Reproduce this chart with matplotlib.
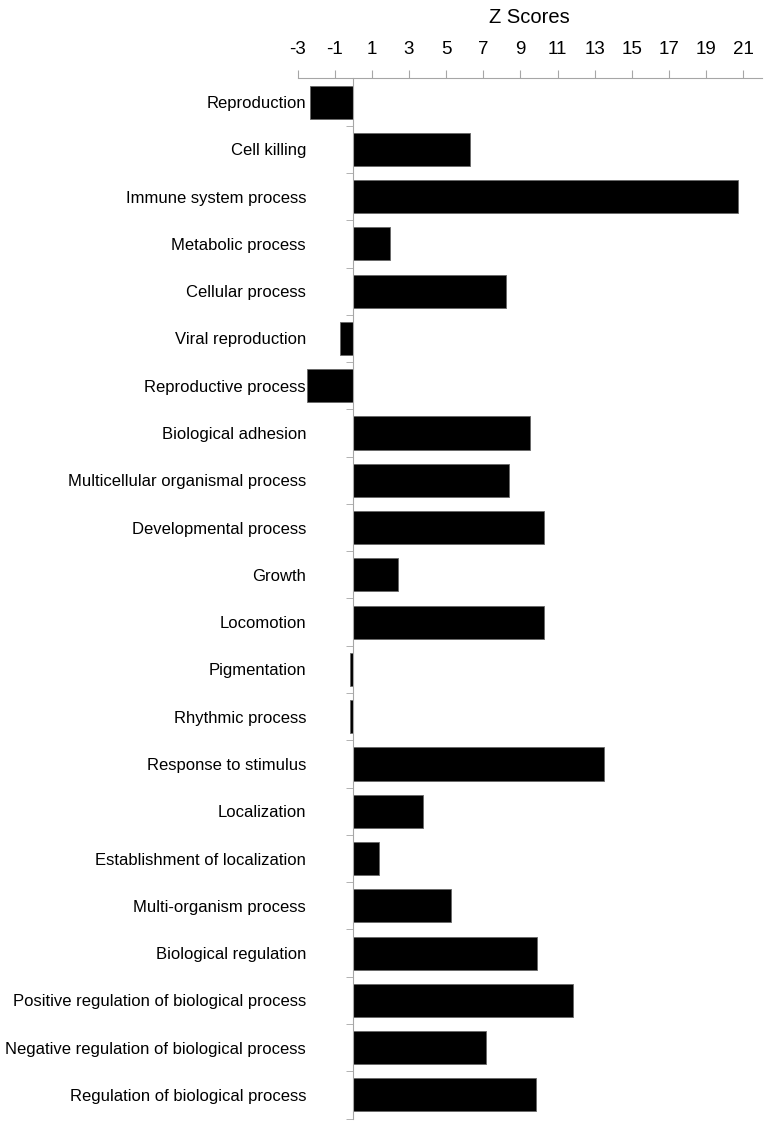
import numpy as np
import matplotlib.pyplot as plt
from matplotlib.ticker import FixedLocator

plt.rcParams['font.family'] = ['Liberation Sans', 'DejaVu Sans']

categories = ["Reproduction", "Cell killing", "Immune system process",
              "Metabolic process", "Cellular process", "Viral reproduction",
              "Reproductive process", "Biological adhesion",
              "Multicellular organismal process", "Developmental process",
              "Growth", "Locomotion", "Pigmentation", "Rhythmic process",
              "Response to stimulus", "Localization",
              "Establishment of localization", "Multi-organism process",
              "Biological regulation",
              "Positive regulation of biological process",
              "Negative regulation of biological process",
              "Regulation of biological process"]
z_scores = [-2.33, 6.27, 20.7, 2.0, 8.2, -0.7, -2.5, 9.5, 8.4, 10.25, 2.4,
            10.25, -0.2, -0.2, 13.5, 3.75, 1.4, 5.25, 9.87, 11.85, 7.12, 9.82]
xticks = list(range(-3, 22, 2))

fig = plt.figure(figsize=(7.68, 11.25), dpi=100)
ax = fig.add_axes([0.3874, 0.0057, 0.9922 - 0.3874, 0.9303 - 0.0057])

y = np.arange(len(categories))
ax.barh(y, z_scores, height=0.7, color='black', edgecolor='#666666', linewidth=0.6)

ax.set_xlim(-3, 22)
ax.set_ylim(len(categories) - 0.5, -0.5)

grey = '#a6a6a6'
for s in ['right', 'bottom']:
    ax.spines[s].set_visible(False)
ax.spines['left'].set_position(('data', 0))
ax.spines['left'].set_color(grey)
ax.spines['top'].set_color(grey)

ax.xaxis.set_ticks_position('top')
ax.xaxis.set_label_position('top')
ax.set_xticks(xticks)
ax.set_xticklabels([str(t) for t in xticks], fontsize=13.5)
ax.tick_params(axis='x', direction='out', length=6, color=grey, pad=9)
ax.set_xlabel("Z Scores", fontsize=14.5, labelpad=13)

ax.set_yticks(y)
ax.set_yticklabels(categories, fontsize=12)
ax.tick_params(axis='y', which='major', length=0, pad=34)
ax.yaxis.set_minor_locator(FixedLocator(np.arange(len(categories) + 1) - 0.5))
ax.tick_params(axis='y', which='minor', direction='out', length=5, color=grey)

fig.savefig("out.png", dpi=100)
